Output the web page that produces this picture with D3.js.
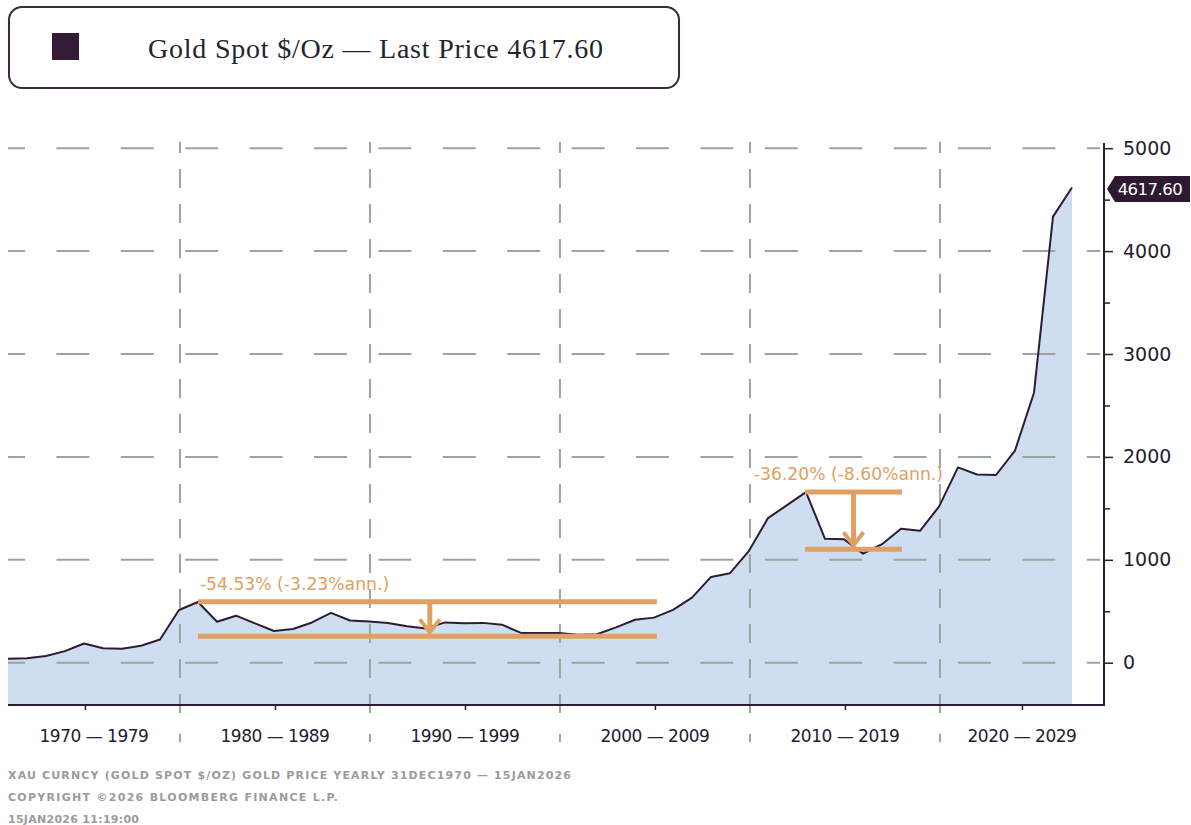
<!DOCTYPE html>
<html>
<head>
<meta charset="utf-8">
<script src="https://cdn.jsdelivr.net/npm/d3@7"></script>
<style>
  body { margin: 0; background: #fff; }
  svg { display: block; }
</style>
</head>
<body>
<svg id="chart" width="1191" height="825"></svg>
<script>
// yearly closes, 31DEC1970 .. 15JAN2026
const years = [1970, 1971, 1972, 1973, 1974, 1975, 1976, 1977, 1978, 1979,
  1980, 1981, 1982, 1983, 1984, 1985, 1986, 1987, 1988, 1989,
  1990, 1991, 1992, 1993, 1994, 1995, 1996, 1997, 1998, 1999,
  2000, 2001, 2002, 2003, 2004, 2005, 2006, 2007, 2008, 2009,
  2010, 2011, 2012, 2013, 2014, 2015, 2016, 2017, 2018, 2019,
  2020, 2021, 2022, 2023, 2024, 2025, 2026];
const closes = [37.4, 43.5, 64.9, 112.3, 186.5, 140.3, 134.5, 165.0, 226.0, 512.0,
  589.5, 397.5, 456.9, 382.4, 308.3, 327.0, 390.9, 484.1, 410.2, 401.0,
  386.2, 353.2, 333.0, 391.8, 383.3, 387.0, 369.3, 289.2, 287.8, 288.7,
  272.7, 276.5, 342.8, 417.3, 438.0, 513.0, 632.0, 833.8, 869.8, 1087.5,
  1405.5, 1531.0, 1657.5, 1204.5, 1199.3, 1060.0, 1151.7, 1302.5, 1281.7, 1517.0,
  1898.0, 1829.0, 1824.0, 2062.0, 2624.0, 4335.0, 4617.6];
const lastPrice = 4617.60;

const decadeStarts = [1970, 1980, 1990, 2000, 2010, 2020];
const decadeLabels = ["1970 \u2014 1979", "1980 \u2014 1989", "1990 \u2014 1999",
  "2000 \u2014 2009", "2010 \u2014 2019", "2020 \u2014 2029"];
const yTicks = [0, 1000, 2000, 3000, 4000, 5000];
const yMinorTicks = [500, 1500, 2500, 3500, 4500];

// drawdown annotations
const annFrom = [1980, 2011.95];
const annTo = [2004.15, 2017.05];
const annTop = [592, 1660];
const annBottom = [256, 1102];
const annArrowAt = [1992.2, 2014.5];
const annText = ["-54.53% (-3.23%ann.)", "-36.20% (-8.60%ann.)"];
const annTextAt = [1980.1, 2009.25];

const title = "Gold Spot $/Oz \u2014 Last Price 4617.60";
const footer = ["XAU CURNCY (GOLD SPOT $/OZ) GOLD PRICE YEARLY 31DEC1970 \u2014 15JAN2026",
  "COPYRIGHT \u00a92026 BLOOMBERG FINANCE L.P.",
  "15JAN2026 11:19:00"];

const ink = "#2d1c33";
const gridColor = "#9aa59b";
const orange = "#e0a064";
const sans = "'DejaVu Sans', sans-serif";

const plot = { left: 8, right: 1104, top: 143, bottom: 705 };

const svg = d3.select("#chart");

const x = d3.scaleLinear().domain([1970, 2026]).range([8, 1072]);
const y = d3.scaleLinear().domain([0, 5000]).range([662.7, 148.2]);

const data = years.map((yr, i) => ({ year: yr, v: closes[i] }));

// legend box
svg.append("rect")
  .attr("x", 9).attr("y", 7).attr("width", 670).attr("height", 81).attr("rx", 13)
  .attr("fill", "#fff").attr("stroke", "#3a2a3c").attr("stroke-width", 2);
svg.append("rect")
  .attr("x", 52).attr("y", 33).attr("width", 27).attr("height", 27)
  .attr("fill", "#341c36");
svg.append("text")
  .attr("x", 148).attr("y", 58)
  .attr("textLength", 455)
  .style("font-family", "'Liberation Serif', serif")
  .style("font-size", "28px")
  .attr("fill", "#23252e")
  .text(title);

// area
const area = d3.area()
  .x(d => x(d.year))
  .y0(plot.bottom)
  .y1(d => y(d.v));
svg.append("path")
  .datum(data)
  .attr("d", area)
  .attr("fill", "#cfddf1");

// horizontal grid
svg.append("g").selectAll("line")
  .data(yTicks)
  .join("line")
  .attr("x1", plot.left).attr("x2", 1100)
  .attr("y1", d => y(d)).attr("y2", d => y(d))
  .attr("stroke", gridColor).attr("stroke-width", 2)
  .attr("stroke-dasharray", "33 31.4").attr("stroke-dashoffset", 16);

// decade separators
const bounds = decadeStarts.map(d => d - 0.95);
const sepG = svg.append("g");
sepG.selectAll("line.sep")
  .data(bounds.slice(1))
  .join("line")
  .attr("class", "sep")
  .attr("x1", d => x(d)).attr("x2", d => x(d))
  .attr("y1", 142).attr("y2", 716)
  .attr("stroke", gridColor).attr("stroke-width", 2)
  .attr("stroke-dasharray", "19 16").attr("stroke-dashoffset", 8);
sepG.selectAll("line.stub")
  .data(bounds.slice(1))
  .join("line")
  .attr("class", "stub")
  .attr("x1", d => x(d)).attr("x2", d => x(d))
  .attr("y1", 734).attr("y2", 742)
  .attr("stroke", gridColor).attr("stroke-width", 2);

// price line
const line = d3.line()
  .x(d => x(d.year))
  .y(d => y(d.v));
svg.append("path")
  .datum(data)
  .attr("d", line)
  .attr("fill", "none")
  .attr("stroke", ink)
  .attr("stroke-width", 2)
  .attr("stroke-linejoin", "round");

// annotations
annText.forEach((t, i) => {
  const g = svg.append("g").attr("stroke", orange).attr("fill", "none");
  const yt = y(annTop[i]), yb = y(annBottom[i]);
  const ax = x(annArrowAt[i]);
  g.append("line")
    .attr("x1", x(annFrom[i])).attr("x2", x(annTo[i]))
    .attr("y1", yt).attr("y2", yt).attr("stroke-width", 5);
  g.append("line")
    .attr("x1", x(annFrom[i])).attr("x2", x(annTo[i]))
    .attr("y1", yb).attr("y2", yb).attr("stroke-width", 5);
  g.append("line")
    .attr("x1", ax).attr("x2", ax)
    .attr("y1", yt).attr("y2", yb - 5).attr("stroke-width", 5);
  g.append("path")
    .attr("d", `M${ax - 10},${yb - 17}L${ax},${yb - 4}L${ax + 10},${yb - 17}`)
    .attr("stroke-width", 4);
  svg.append("text")
    .attr("x", x(annTextAt[i])).attr("y", yt - 12)
    .style("font-family", sans).style("font-size", "17.2px")
    .attr("fill", orange)
    .text(t);
});

// bottom axis
const tickYears = [], labelYears = [];
const rightYear = x.invert(plot.right);
bounds.forEach((lo, k) => {
  const hi = Math.min(lo + 10, rightYear);
  tickYears.push((lo + hi) / 2);
  labelYears.push((Math.max(lo, 1970) + hi) / 2);
});
const xAxis = svg.append("g")
  .attr("transform", `translate(0,${plot.bottom})`)
  .call(d3.axisBottom(x).tickValues(tickYears).tickSize(5).tickFormat(""));
xAxis.select(".domain").remove();
xAxis.selectAll(".tick line").attr("stroke", ink).attr("stroke-width", 1.5);
svg.append("line")
  .attr("x1", plot.left).attr("x2", plot.right + 1)
  .attr("y1", plot.bottom).attr("y2", plot.bottom)
  .attr("stroke", ink).attr("stroke-width", 2);

svg.append("g").selectAll("text")
  .data(decadeLabels)
  .join("text")
  .attr("x", (d, i) => x(labelYears[i]))
  .attr("y", 742)
  .attr("text-anchor", "middle")
  .style("font-family", sans).style("font-size", "17px")
  .style("letter-spacing", "-0.5px")
  .attr("fill", "#1f2030")
  .text(d => d);

// right axis
const yAxis = svg.append("g")
  .attr("transform", `translate(${plot.right},0)`)
  .call(d3.axisRight(y).tickValues(yTicks).tickSize(9).tickPadding(10).tickFormat(d3.format("d")));
yAxis.select(".domain").remove();
yAxis.selectAll(".tick line").attr("stroke", ink).attr("stroke-width", 1.5);
yAxis.selectAll(".tick text")
  .style("font-family", sans).style("font-size", "19px")
  .attr("fill", "#1f2030");
const yMinor = svg.append("g")
  .attr("transform", `translate(${plot.right},0)`)
  .call(d3.axisRight(y).tickValues(yMinorTicks).tickSize(6).tickFormat(""));
yMinor.select(".domain").remove();
yMinor.selectAll(".tick line").attr("stroke", ink).attr("stroke-width", 1.5);
svg.append("line")
  .attr("x1", plot.right).attr("x2", plot.right)
  .attr("y1", plot.top).attr("y2", plot.bottom + 1)
  .attr("stroke", ink).attr("stroke-width", 2);

// last price tag
const ty = y(lastPrice) + 1.5;
svg.append("path")
  .attr("d", `M1107,${ty}L1115,${ty - 13}L1190,${ty - 13}L1190,${ty + 13}L1115,${ty + 13}Z`)
  .attr("fill", "#2d1a30");
svg.append("text")
  .attr("x", 1150).attr("y", ty + 6)
  .attr("text-anchor", "middle")
  .style("font-family", sans).style("font-size", "16.5px")
  .style("letter-spacing", "-0.5px")
  .attr("fill", "#fff")
  .text(d3.format(".2f")(lastPrice));

// footer
const footerWidths = [563, 330, 131];
svg.append("g").selectAll("text")
  .data(footer)
  .join("text")
  .attr("x", 8)
  .attr("y", (d, i) => 779 + i * 22)
  .attr("textLength", (d, i) => footerWidths[i])
  .style("font-family", sans).style("font-size", "11px").style("font-weight", "bold")
  .attr("fill", "#9b9b9b")
  .text(d => d);
</script>
</body>
</html>
